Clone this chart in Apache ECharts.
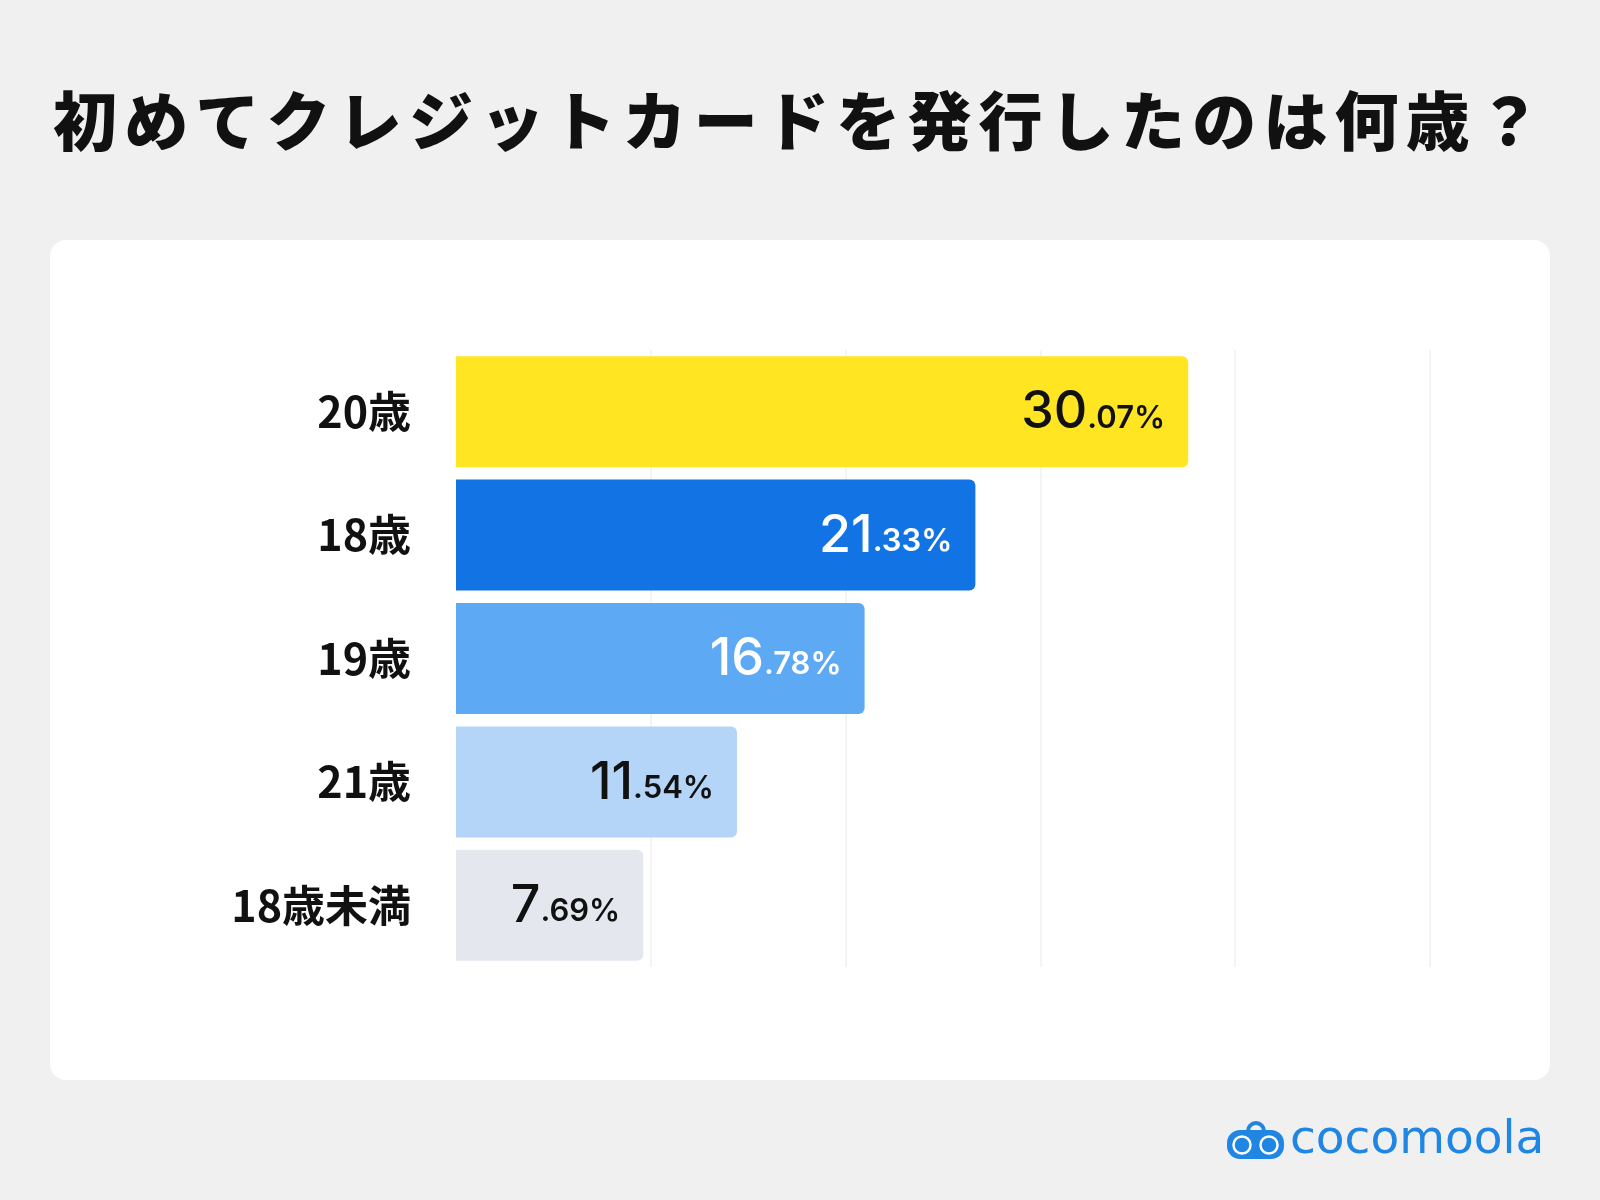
<!DOCTYPE html>
<html>
<head>
<meta charset="utf-8">
<script src="https://cdn.jsdelivr.net/npm/echarts@6/dist/echarts.min.js"></script>
<style>
  html, body { margin: 0; padding: 0; background: #f0f0f0; }
  #chart { width: 1600px; height: 1200px; }
</style>
</head>
<body>
<div id="chart"></div>
<script>
// data
const titleText = '初めてクレジットカードを発行したのは何歳？';
const categories = ['20歳', '18歳', '19歳', '21歳', '18歳未満'];
const values = [30.07, 21.33, 16.78, 11.54, 7.69];
const barColors = ['#ffe522', '#1273e4', '#5da9f4', '#b4d5f8', '#e4e8ee'];
const labelColors = ['#111111', '#ffffff', '#ffffff', '#111111', '#111111'];
const logoText = 'cocomoola';

const chart = echarts.init(document.getElementById('chart'));

// title drawn one char at a time so the wide tracking matches
const titleChars = titleText.split('').map((ch, i) => ({
  type: 'text',
  x: 53 + i * 71.2,
  y: 121,
  style: {
    text: ch,
    fontSize: 64,
    fontWeight: 900,
    fontFamily: '"Noto Sans CJK JP", sans-serif',
    fill: '#111111',
    verticalAlign: 'middle'
  }
}));

const logoColor = '#1f86e3';

chart.setOption({
  backgroundColor: '#f0f0f0',
  animation: false,
  graphic: [
    {
      type: 'rect',
      z: -10,
      silent: true,
      shape: { x: 50, y: 240, width: 1500, height: 840, r: 16 },
      style: { fill: '#ffffff' }
    },
    ...titleChars,
    // logo
    {
      type: 'group',
      children: [
        {
          type: 'arc',
          shape: { cx: 1256, cy: 1131, r: 8, startAngle: Math.PI, endAngle: Math.PI * 2 },
          style: { stroke: logoColor, lineWidth: 4, fill: null, lineCap: 'round' }
        },
        {
          type: 'rect',
          shape: { x: 1227, y: 1130, width: 57, height: 29, r: 13 },
          style: { fill: logoColor }
        },
        {
          type: 'circle',
          shape: { cx: 1242, cy: 1145, r: 8.5 },
          style: { fill: logoColor, stroke: '#ffffff', lineWidth: 2.5 }
        },
        {
          type: 'circle',
          shape: { cx: 1269, cy: 1145, r: 8.5 },
          style: { fill: logoColor, stroke: '#ffffff', lineWidth: 2.5 }
        },
        {
          type: 'text',
          x: 1290,
          y: 1141,
          style: {
            text: logoText,
            fontSize: 47,
            fontWeight: 'normal',
            fontFamily: '"DejaVu Sans", sans-serif',
            fill: logoColor,
            verticalAlign: 'middle'
          }
        }
      ]
    }
  ],
  grid: {
    left: 456,
    right: 170,
    top: 350,
    height: 617,
    containLabel: false,
    outerBoundsMode: 'none'
  },
  xAxis: {
    type: 'value',
    min: 0,
    max: 40,
    interval: 8,
    axisLabel: { show: false },
    axisLine: { show: false },
    axisTick: { show: false },
    splitLine: { show: true, showMinLine: false, lineStyle: { color: '#f1f1f1', width: 1.5 } }
  },
  yAxis: {
    type: 'category',
    data: categories,
    inverse: true,
    axisLine: { show: false },
    axisTick: { show: false },
    splitLine: { show: false },
    axisLabel: {
      margin: 45,
      fontSize: 43,
      fontWeight: 'bold',
      fontFamily: '"Noto Sans CJK JP", sans-serif',
      color: '#111111'
    }
  },
  series: [{
    type: 'bar',
    barWidth: 111,
    data: values.map((v, i) => ({
      value: v,
      itemStyle: { color: barColors[i], borderRadius: [0, 6, 6, 0] },
      label: { color: labelColors[i] }
    })),
    label: {
      show: true,
      position: 'insideRight',
      distance: 23,
      formatter: (p) => {
        const parts = p.value.toFixed(2).split('.');
        return '{a|' + parts[0] + '}{b|.' + parts[1] + '%}';
      },
      rich: {
        a: {
          fontSize: 52,
          fontWeight: 500,
          fontFamily: 'Inter, sans-serif',
          verticalAlign: 'bottom',
          lineHeight: 54
        },
        b: {
          fontSize: 31,
          fontWeight: 600,
          fontFamily: 'Inter, sans-serif',
          verticalAlign: 'bottom',
          padding: [0, 0, 5, 0]
        }
      }
    }
  }]
});

window.addEventListener('resize', () => chart.resize());
</script>
</body>
</html>
